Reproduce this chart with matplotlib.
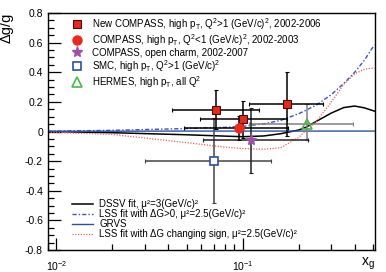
"""
Delta g / g vs x_g: COMPASS, SMC, HERMES points with DSSV / LSS / GRVS curves.
"""

import matplotlib
matplotlib.use("Agg")
import matplotlib.pyplot as plt
from matplotlib.ticker import MultipleLocator, LogLocator, NullFormatter

plt.rcParams["font.family"] = ["Liberation Sans", "DejaVu Sans"]
plt.rcParams["mathtext.fontset"] = "custom"
plt.rcParams["mathtext.rm"] = "Liberation Sans"
plt.rcParams["mathtext.it"] = "Liberation Sans:italic"

# ── data points ──────────────────────────────────────────────────────────────
new_compass_x    = [0.072, 0.101, 0.173]
new_compass_y    = [0.147, 0.082, 0.188]
new_compass_yerr = [0.133, 0.126, 0.216]
new_compass_xlo  = [0.030, 0.042, 0.065]
new_compass_xhi  = [0.050, 0.072, 0.099]

compass_lowq_x    = [0.0955]
compass_lowq_y    = [0.026]
compass_lowq_yerr = [0.080]
compass_lowq_xlo  = [0.047]
compass_lowq_xhi  = [0.080]

charm_x    = [0.111]
charm_y    = [-0.060]
charm_yerr = [0.218]
charm_xlo  = [0.050]
charm_xhi  = [0.114]

smc_x    = [0.0705]
smc_y    = [-0.197]
smc_yerr = [0.285]
smc_xlo  = [0.0405]
smc_xhi  = [0.071]

hermes_x     = [0.222]
hermes_y     = [0.049]
hermes_yerr_lo = [0.106]
hermes_yerr_hi = [0.135]
hermes_xlo   = [0.114]
hermes_xhi   = [0.168]

# ── curves ───────────────────────────────────────────────────────────────────
curve_x = [0.009, 0.02, 0.05, 0.08, 0.1, 0.13, 0.16, 0.2, 0.22, 0.25,
           0.3, 0.35, 0.4, 0.45, 0.51]
dssv    = [0.0, -0.008, -0.022, -0.031, -0.035, -0.030, -0.015, 0.010,
           0.030, 0.070, 0.125, 0.162, 0.172, 0.160, 0.138]
lss_pos = [0.002, 0.008, 0.020, 0.028, 0.035, 0.052, 0.075, 0.120,
           0.145, 0.180, 0.250, 0.325, 0.400, 0.480, 0.585]
grvs    = [0.002, 0.002, 0.003, 0.003, 0.003, 0.003, 0.003, 0.003,
           0.003, 0.003, 0.003, 0.003, 0.003, 0.003, 0.003]
lss_chg = [-0.005, -0.020, -0.075, -0.105, -0.115, -0.120, -0.110, -0.040,
           0.010, 0.070, 0.200, 0.320, 0.390, 0.420, 0.430]

RED = "#e8291c"
PURPLE = "#a04fa8"
BLUE = "#2a52a8"
GREEN = "#4cb84c"

fig = plt.figure(figsize=(3.86, 2.72), dpi=100)
ax = fig.add_axes([0.124, 0.081, 0.847, 0.871])

# curves
ax.plot(curve_x, dssv, color="black", lw=1.1,
        label="DSSV fit, μ²=3(GeV/c)²")
ax.plot(curve_x, lss_pos, color="#3b4fc8", lw=1.0, ls=(0, (3, 1.5, 1, 1.5)),
        label="LSS fit with ΔG>0, μ²=2.5(GeV/c)²")
ax.plot(curve_x, grvs, color=BLUE, lw=1.0, label="GRVS")
ax.plot(curve_x, lss_chg, color="#e86060", lw=0.9, ls=(0, (1, 1.2)),
        label="LSS fit with ΔG changing sign, μ²=2.5(GeV/c)²")

# error bars
eb = dict(capsize=1.2, elinewidth=1.1, capthick=0.8)
ax.errorbar(hermes_x, hermes_y, yerr=[hermes_yerr_lo, hermes_yerr_hi],
            xerr=[hermes_xlo, hermes_xhi], fmt="none", ecolor="#808080", **eb)
ax.errorbar(smc_x, smc_y, yerr=smc_yerr, xerr=[smc_xlo, smc_xhi],
            fmt="none", ecolor="#444444", **eb)
ax.errorbar(charm_x, charm_y, yerr=charm_yerr, xerr=[charm_xlo, charm_xhi],
            fmt="none", ecolor="#222222", **eb)
ax.errorbar(compass_lowq_x, compass_lowq_y, yerr=compass_lowq_yerr,
            xerr=[compass_lowq_xlo, compass_lowq_xhi], fmt="none",
            ecolor="black", **eb)
ax.errorbar(new_compass_x, new_compass_y, yerr=new_compass_yerr,
            xerr=[new_compass_xlo, new_compass_xhi], fmt="none",
            ecolor="black", **eb)

# markers
h1, = ax.plot(new_compass_x, new_compass_y, "s", color=RED, mec="#401010",
              mew=0.8, ms=6, ls="none", zorder=5)
h2, = ax.plot(compass_lowq_x, compass_lowq_y, "o", color=RED, mec=RED,
              ms=6.5, ls="none", zorder=5)
h3, = ax.plot(charm_x, charm_y, "*", color=PURPLE, mec=PURPLE,
              ms=8, ls="none", zorder=5)
h4, = ax.plot(smc_x, smc_y, "s", mfc="white", mec=BLUE, mew=1.2,
              ms=5.5, ls="none", zorder=5)
h5, = ax.plot(hermes_x, hermes_y, "^", mfc="none", mec=GREEN, mew=1.2,
              ms=7, ls="none", zorder=5)

ax.set_xscale("log")
ax.set_xlim(0.009, 0.513)
ax.set_ylim(-0.8, 0.8)

ax.yaxis.set_major_locator(MultipleLocator(0.2))
ax.yaxis.set_minor_locator(MultipleLocator(0.05))
ax.xaxis.set_major_locator(LogLocator(base=10))
ax.xaxis.set_minor_locator(LogLocator(base=10, subs=range(2, 10)))
ax.xaxis.set_minor_formatter(NullFormatter())
ax.yaxis.set_major_formatter(lambda v, p: "0" if abs(v) < 1e-9 else f"{v:.1f}")

ax.tick_params(which="both", direction="in", top=False, right=False,
               labelsize=7.5, width=0.9)
ax.tick_params(which="major", length=9)
ax.tick_params(which="minor", length=4.5)
ax.tick_params(axis="x", pad=7)
for s in ax.spines.values():
    s.set_linewidth(1.0)

ax.set_ylabel("Δg/g", fontsize=10.5, loc="top")
ax.yaxis.set_label_coords(-0.105, 1.0)
ax.set_xlabel("x$_{\\rm g}$", fontsize=10, loc="right")
ax.xaxis.set_label_coords(1.0, -0.025)

leg1 = ax.legend([h1, h2, h3, h4, h5],
                 ["New COMPASS, high p$_{\\rm T}$, Q$^2$>1 (GeV/c)$^2$, 2002-2006",
                  "COMPASS, high p$_{\\rm T}$, Q$^2$<1 (GeV/c)$^2$, 2002-2003",
                  "COMPASS, open charm, 2002-2007",
                  "SMC, high p$_{\\rm T}$, Q$^2$>1 (GeV/c)$^2$",
                  "HERMES, high p$_{\\rm T}$, all Q$^2$"],
                 loc="upper left", bbox_to_anchor=(0.063, 1.005), frameon=False,
                 fontsize=7, handlelength=1.0, handletextpad=1.0,
                 labelspacing=0.02, borderaxespad=0)
ax.add_artist(leg1)

ax.legend(loc="lower left", bbox_to_anchor=(0.062, 0.03), frameon=False,
          fontsize=7, handlelength=2.2, handletextpad=0.6, labelspacing=0.0,
          borderaxespad=0)

fig.savefig("out.png", dpi=100)
